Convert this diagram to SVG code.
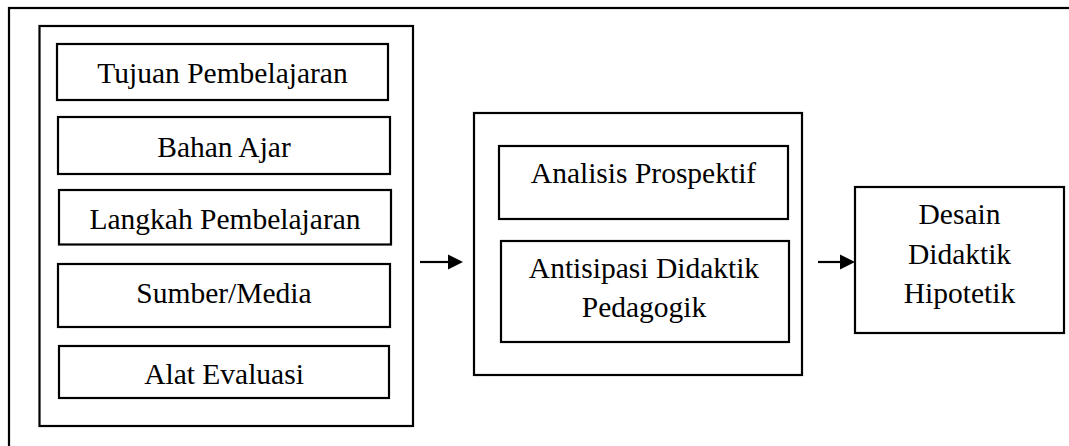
<svg xmlns="http://www.w3.org/2000/svg" width="1069" height="446" viewBox="0 0 1069 446">
<style>
.box{fill:#fff;stroke:#000;stroke-width:2.2}
.t{font-family:'Liberation Serif','Times New Roman',Times,serif;font-size:29.5px;fill:#000;text-anchor:middle}
.ln{stroke:#000;stroke-width:2.2;fill:none}
</style>
<rect width="1069" height="446" fill="#fff"/>
<g id="frame"><rect class="box" x="9" y="8" width="1080" height="460"/></g>
<g id="panel-left"><rect class="box" x="39.5" y="26" width="373.5" height="400"/></g>
<g id="n-tujuan"><rect class="box" x="57" y="44" width="331" height="56"/><text class="t" font-family="Liberation Serif, serif" x="222.5" y="83">Tujuan Pembelajaran</text></g>
<g id="n-bahan"><rect class="box" x="58" y="117" width="332" height="57"/><text class="t" x="224" y="156.5">Bahan Ajar</text></g>
<g id="n-langkah"><rect class="box" x="59" y="190" width="332" height="54.5"/><text class="t" x="225" y="228.5">Langkah Pembelajaran</text></g>
<g id="n-sumber"><rect class="box" x="58" y="264" width="332" height="63"/><text class="t" x="224" y="303">Sumber/Media</text></g>
<g id="n-alat"><rect class="box" x="59" y="346" width="330" height="52"/><text class="t" x="224" y="384">Alat Evaluasi</text></g>
<g id="panel-mid"><rect class="box" x="474" y="113" width="328" height="262"/></g>
<g id="n-analisis"><rect class="box" x="499" y="146" width="289" height="73"/><text class="t" x="643.5" y="183">Analisis Prospektif</text></g>
<g id="n-antisipasi"><rect class="box" x="501" y="241" width="288" height="101"/><text class="t" x="644" y="278">Antisipasi Didaktik</text><text class="t" x="644" y="317">Pedagogik</text></g>
<g id="n-desain"><rect class="box" x="855" y="187" width="209" height="146"/><text class="t" x="959.5" y="224">Desain</text><text class="t" x="959.5" y="263.5">Didaktik</text><text class="t" x="959.5" y="303">Hipotetik</text></g>
<g id="connectors">
<line class="ln" x1="420" y1="262" x2="450" y2="262"/>
<polygon points="448,254.5 463,262 448,269.5" fill="#000"/>
<line class="ln" x1="818" y1="262" x2="842" y2="262"/>
<polygon points="840,254.5 855,262 840,269.5" fill="#000"/>
</g>
</svg>
